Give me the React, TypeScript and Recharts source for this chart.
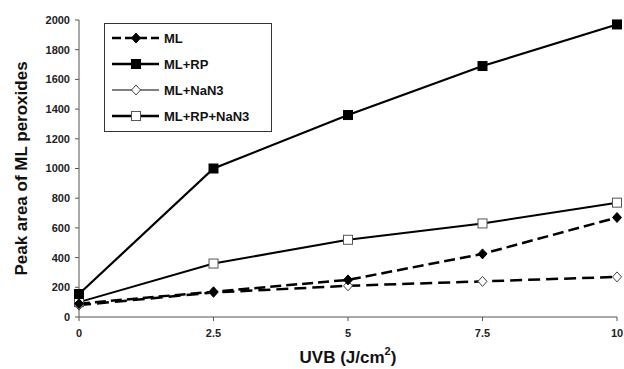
import React from 'react';
import { LineChart, Line, XAxis, YAxis } from 'recharts';

const doses = [0, 2.5, 5, 7.5, 10];
const ml = [90, 170, 250, 425, 670];
const mlRp = [155, 1000, 1360, 1690, 1970];
const mlNaN3 = [80, 165, 210, 240, 270];
const mlRpNaN3 = [100, 360, 520, 630, 770];
const yTicks = [0, 200, 400, 600, 800, 1000, 1200, 1400, 1600, 1800, 2000];

const data = doses.map((d, i) => ({
  uvb: d,
  ml: ml[i],
  mlRp: mlRp[i],
  mlNaN3: mlNaN3[i],
  mlRpNaN3: mlRpNaN3[i],
}));

const font = 'Liberation Sans, Arial, sans-serif';

const Diamond = ({ cx, cy, fill }: any) => (
  <polygon
    points={`${cx},${cy - 5} ${cx + 4.5},${cy} ${cx},${cy + 5} ${cx - 4.5},${cy}`}
    fill={fill}
    stroke={fill === '#fff' ? '#444' : '#000'}
    strokeWidth={1}
  />
);

const Square = ({ cx, cy, fill }: any) => (
  <rect
    x={cx - 4.5}
    y={cy - 4.5}
    width={9}
    height={9}
    fill={fill}
    stroke={fill === '#fff' ? '#555' : '#000'}
    strokeWidth={1}
  />
);

const legendItems = [
  { name: 'ML', dash: '9 4', width: 2.5, shape: 'diamond', fill: '#000' },
  { name: 'ML+RP', dash: undefined, width: 2.5, shape: 'square', fill: '#000' },
  { name: 'ML+NaN3', dash: undefined, width: 1, shape: 'diamond', fill: '#fff' },
  { name: 'ML+RP+NaN3', dash: undefined, width: 2.5, shape: 'square', fill: '#fff' },
];

const LegendBox = () => (
  <div
    style={{
      position: 'absolute',
      left: 104,
      top: 23,
      border: '1.5px solid #333',
      width: 168,
      height: 109,
      boxSizing: 'border-box',
      background: '#fff',
      fontFamily: font,
      fontWeight: 'bold',
      fontSize: 13,
      color: '#111',
    }}
  >
    {legendItems.map((it, i) => (
      <div key={it.name} style={{ position: 'absolute', left: 7, top: 4 + i * 26, display: 'flex', alignItems: 'center', height: 20 }}>
        <svg width={48} height={20}>
          <line x1={0} y1={10} x2={47} y2={10} stroke="#000" strokeWidth={it.width} strokeDasharray={it.dash} />
          {it.shape === 'diamond' ? (
            <Diamond cx={24} cy={10} fill={it.fill} />
          ) : (
            <Square cx={24} cy={10} fill={it.fill} />
          )}
        </svg>
        <span style={{ marginLeft: 4, whiteSpace: 'nowrap' }}>{it.name}</span>
      </div>
    ))}
  </div>
);

const YLabel = ({ viewBox }: any) => (
  <text
    x={21}
    y={viewBox.y + viewBox.height / 2}
    transform={`rotate(-90 21 ${viewBox.y + viewBox.height / 2})`}
    textAnchor="middle"
    dominantBaseline="central"
    fontFamily={font}
    fontWeight="bold"
    fontSize={17}
    fill="#111"
  >
    Peak area of ML peroxides
  </text>
);

const XLabel = ({ viewBox }: any) => (
  <text
    x={viewBox.x + viewBox.width / 2}
    y={357}
    textAnchor="middle"
    dominantBaseline="central"
    fontFamily={font}
    fontWeight="bold"
    fontSize={17}
    fill="#111"
  >
    UVB (J/cm
    <tspan fontSize={11} dy={-6}>2</tspan>
    <tspan dy={6}>)</tspan>
  </text>
);

const tickStyle = { fontFamily: font, fontWeight: 'bold', fontSize: 11, fill: '#222' };

export default function App() {
  return (
    <div style={{ position: 'absolute', left: 0, top: 0, width: 624, height: 369, overflow: 'hidden' }}>
      <LineChart width={624} height={369} data={data} margin={{ top: 20, right: 7, left: 0, bottom: 0 }}>
        <XAxis
          dataKey="uvb"
          type="number"
          domain={[0, 10]}
          ticks={doses}
          height={52}
          tickSize={4}
          tickMargin={8}
          stroke="#555"
          tick={tickStyle}
          label={<XLabel />}
        />
        <YAxis
          type="number"
          domain={[0, 2000]}
          ticks={yTicks}
          width={79}
          tickSize={4}
          tickMargin={5}
          stroke="#555"
          tick={tickStyle}
          label={<YLabel />}
        />
        <Line
          dataKey="mlRpNaN3"
          name="ML+RP+NaN3"
          stroke="#000"
          strokeWidth={2}
          isAnimationActive={false}
          dot={(p: any) => <Square key={p.index} cx={p.cx} cy={p.cy} fill="#fff" />}
        />
        <Line
          dataKey="mlRp"
          name="ML+RP"
          stroke="#000"
          strokeWidth={2.2}
          isAnimationActive={false}
          dot={(p: any) => <Square key={p.index} cx={p.cx} cy={p.cy} fill="#000" />}
        />
        <Line
          dataKey="mlNaN3"
          name="ML+NaN3"
          stroke="#000"
          strokeWidth={2.5}
          strokeDasharray="12 6"
          isAnimationActive={false}
          dot={(p: any) => <Diamond key={p.index} cx={p.cx} cy={p.cy} fill="#fff" />}
        />
        <Line
          dataKey="ml"
          name="ML"
          stroke="#000"
          strokeWidth={2.5}
          strokeDasharray="11 5"
          isAnimationActive={false}
          dot={(p: any) => <Diamond key={p.index} cx={p.cx} cy={p.cy} fill="#000" />}
        />
      </LineChart>
      <LegendBox />
    </div>
  );
}
